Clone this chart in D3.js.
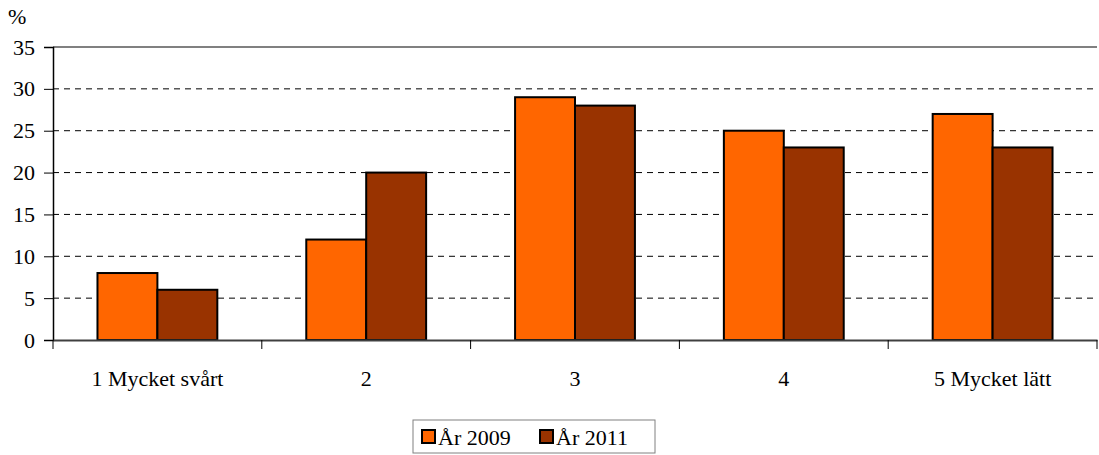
<!DOCTYPE html>
<html>
<head>
<meta charset="utf-8">
<script src="https://cdn.jsdelivr.net/npm/d3@7"></script>
<style>
  body { margin: 0; background: #fff; }
</style>
</head>
<body>
<svg id="chart" width="1099" height="455"></svg>
<script>
const categories = ["1 Mycket svårt", "2", "3", "4", "5 Mycket lätt"]
const seriesNames = ["År 2009", "År 2011"]
const values2009 = [8, 12, 29, 25, 27]
const values2011 = [6, 20, 28, 23, 23]
const yTicks = [0, 5, 10, 15, 20, 25, 30, 35]
const colours = ["#ff6600", "#993300"]

const font = "'Liberation Serif', 'Times New Roman', Times, serif"
const fontSize = 22

const margin = {top: 47, right: 2, bottom: 115, left: 53}
const width = 1099, height = 455

const svg = d3.select('#chart')
    .style('font-family', font)
    .style('font-size', fontSize + 'px')
const chart = svg.append('g')
    .attr('transform', `translate(${margin.left}, ${margin.top})`)

const w = width - margin.left - margin.right
const h = height - margin.top - margin.bottom

const x = d3.scaleBand()
    .domain(categories)
    .range([0, w])
    .paddingInner(0.426)
    .paddingOuter(0.213)

const x1 = d3.scaleBand()
    .domain(seriesNames)
    .range([0, x.bandwidth()])

const y = d3.scaleLinear()
    .domain([0, 35])
    .range([h, 0])

// dashed grid lines
chart.selectAll('.grid')
    .data(yTicks.filter(d => d > 0 && d < 35))
    .enter().append('line')
    .attr('class', 'grid')
    .attr('x1', 0).attr('x2', w)
    .attr('y1', d => y(d)).attr('y2', d => y(d))
    .style('stroke', '#000')
    .style('stroke-width', 1)
    .style('stroke-dasharray', '6,5')

// top border
chart.append('line')
    .attr('x1', 0).attr('x2', w)
    .attr('y1', 0).attr('y2', 0)
    .style('stroke', '#808080')
    .style('stroke-width', 2)

// bars
const data = categories.map((c, i) => ({cat: c, vals: [values2009[i], values2011[i]]}))
const groups = chart.selectAll('.group')
    .data(data)
    .enter().append('g')
    .attr('class', 'group')
    .attr('transform', d => `translate(${x(d.cat)}, 0)`)

groups.selectAll('rect')
    .data(d => d.vals.map((v, j) => ({name: seriesNames[j], v: v, j: j})))
    .enter().append('rect')
    .attr('x', d => x1(d.name))
    .attr('y', d => y(d.v))
    .attr('width', x1.bandwidth())
    .attr('height', d => h - y(d.v))
    .style('fill', d => colours[d.j])
    .style('stroke', '#000')
    .style('stroke-width', 2)

// y axis
const yAxis = chart.append('g')
    .call(d3.axisLeft(y).tickValues(yTicks).tickSize(9).tickPadding(9))
    .attr('font-family', null)
    .attr('font-size', null)
yAxis.select('.domain').style('stroke', '#000').style('stroke-width', 1.5)
yAxis.selectAll('.tick line').style('stroke', '#000')
yAxis.selectAll('text').attr('fill', '#000')

// x axis
const xAxis = chart.append('g')
    .attr('transform', `translate(0, ${h})`)
    .call(d3.axisBottom(x).tickSize(0).tickPadding(30))
    .attr('font-family', null)
    .attr('font-size', null)
xAxis.select('.domain').style('stroke', '#404040').style('stroke-width', 2)
xAxis.selectAll('text').attr('fill', '#000')

// category separators on x axis
chart.selectAll('.xsep')
    .data(d3.range(categories.length + 1))
    .enter().append('line')
    .attr('x1', i => i * w / categories.length)
    .attr('x2', i => i * w / categories.length)
    .attr('y1', h).attr('y2', h + 9)
    .style('stroke', '#000')

// unit label
svg.append('text')
    .attr('x', 8).attr('y', 24)
    .text('%')

// legend
const legend = svg.append('g').attr('transform', 'translate(413, 420)')
legend.append('rect')
    .attr('width', 242).attr('height', 33)
    .style('fill', '#fff')
    .style('stroke', '#808080')
    .style('stroke-width', 1)

const item = legend.selectAll('.item')
    .data(seriesNames)
    .enter().append('g')
    .attr('class', 'item')
    .attr('transform', (d, i) => `translate(${9 + i * 118}, 0)`)
item.append('rect')
    .attr('x', 0).attr('y', 10)
    .attr('width', 13).attr('height', 13)
    .style('fill', (d, i) => colours[i])
    .style('stroke', '#000')
    .style('stroke-width', 2)
item.append('text')
    .attr('x', 16).attr('y', 25)
    .text(d => d)
</script>
</body>
</html>
